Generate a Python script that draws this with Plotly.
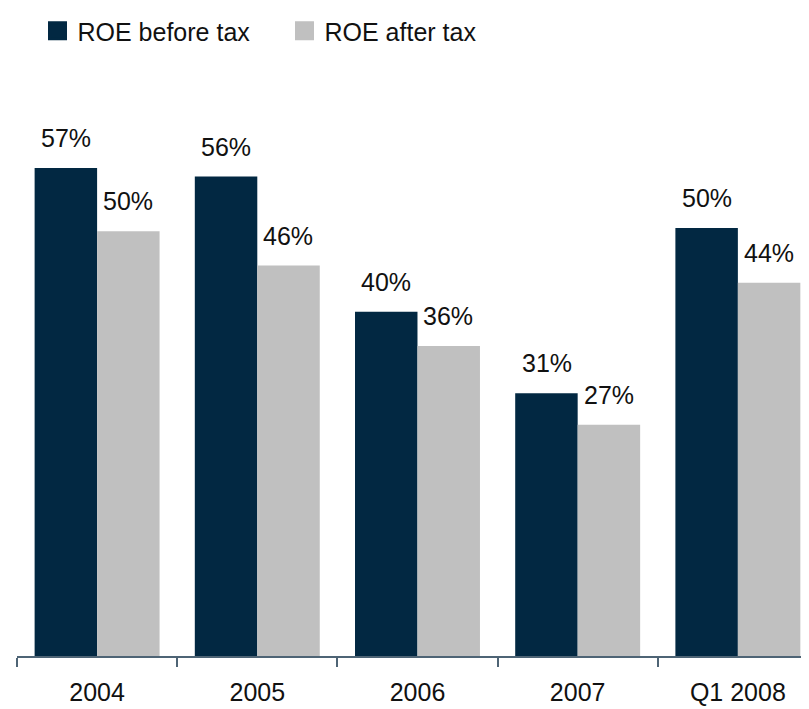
import plotly.graph_objects as go

periods = ["2004", "2005", "2006", "2007", "Q1 2008"]
roe_before_tax = [57.0, 56.0, 40.2, 30.7, 50.0]
roe_after_tax = [49.6, 45.6, 36.2, 27.0, 43.6]

DARK = "#022842"
GREY = "#c0c0c0"
FONT = "Liberation Sans, Arial, sans-serif"

fig = go.Figure()
fig.add_trace(go.Bar(x=periods, y=roe_before_tax, name="ROE before tax",
                     marker_color=DARK, marker_line_width=0, showlegend=False))
fig.add_trace(go.Bar(x=periods, y=roe_after_tax, name="ROE after tax",
                     marker_color=GREY, marker_line_width=0, showlegend=False))

# legend entries with bigger square swatches than the bar legend gives
for name, col in [("ROE before tax", DARK), ("ROE after tax", GREY)]:
    fig.add_trace(go.Scatter(x=[None], y=[None], mode="markers", name=name,
                             marker=dict(symbol="square", size=16, color=col,
                                         line=dict(color=col, width=3))))

# value labels above each bar (left bar / right bar of each group)
for vals, shift in [(roe_before_tax, -31), (roe_after_tax, 31)]:
    for i, v in enumerate(vals):
        fig.add_annotation(x=i, y=v, text=f"{round(v)}%", showarrow=False,
                           xshift=shift, yshift=14, yanchor="bottom",
                           font=dict(size=25, color="#111111", family=FONT))

fig.update_layout(
    width=809, height=709,
    margin=dict(l=9, r=0, t=72, b=61),
    plot_bgcolor="white", paper_bgcolor="white",
    barmode="group", bargap=0.22, bargroupgap=0,
    font=dict(family=FONT, size=25, color="#111111"),
    legend=dict(orientation="h", x=0.0256, xanchor="left",
                yref="container", y=1, yanchor="top",
                font=dict(size=25), entrywidth=202, traceorder="normal",
                itemsizing="trace"),
    showlegend=True,
)
fig.update_xaxes(range=[-0.5, 4.494], showline=True, linecolor="#4e6475", linewidth=1.5,
                 ticks="outside", tickson="boundaries", ticklen=9, tickcolor="#4e6475",
                 tickwidth=1.5, ticklabelstandoff=13, showgrid=False, automargin=False,
                 tickfont=dict(size=25))
fig.update_yaxes(range=[0, 67.28], visible=False, showgrid=False)

fig.write_html("out.html")
